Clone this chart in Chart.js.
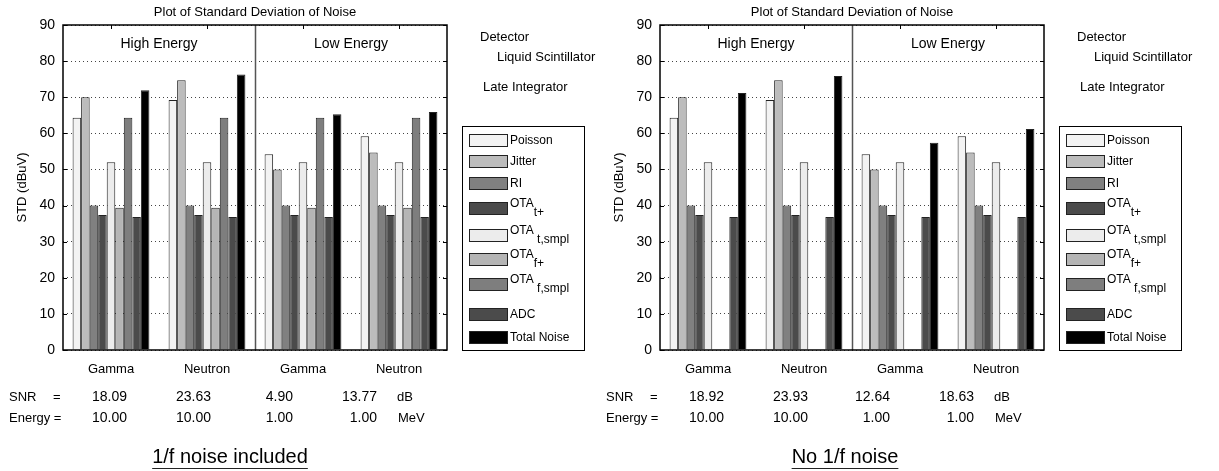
<!DOCTYPE html>
<html>
<head>
<meta charset="utf-8">
<script src="https://cdn.jsdelivr.net/npm/chart.js@4/dist/chart.umd.min.js"></script>
<style>
  html, body { margin: 0; padding: 0; background: #fff; }
  #wrap { position: relative; width: 1219px; height: 471px; overflow: hidden; }
  canvas { position: absolute; top: 0; }
</style>
</head>
<body>
<div id="wrap">
  <canvas id="left" width="610" height="471" style="left:0px"></canvas>
  <canvas id="right" width="610" height="471" style="left:597px"></canvas>
</div>
<script>
// categories and groups
const categories = ['Gamma', 'Neutron', 'Gamma', 'Neutron'];
const energyGroups = ['High Energy', 'Low Energy'];

// legend names (main text + subscript)
const legendMain = ['Poisson', 'Jitter', 'RI', 'OTA', 'OTA', 'OTA', 'OTA', 'ADC', 'Total Noise'];
const legendSub = ['', '', '', 't+', ' t,smpl', 'f+', ' f,smpl', '', ''];
const barColors = ['#f3f3f3', '#bcbcbc', '#808080', '#4b4b4b', '#ececec', '#b5b5b5', '#7e7e7e', '#4b4b4b', '#000000'];

// series values (dBuV), shared by both plots
const poisson = [64.3, 69.2, 54.2, 59.2];
const jitter = [70.0, 74.7, 50.0, 54.7];
const ri = [40.0, 40.0, 40.0, 40.0];
const otaT = [37.4, 37.4, 37.4, 37.4];
const otaTSmpl = [52.0, 52.0, 52.0, 52.0];
const adc = [36.8, 36.8, 36.8, 36.8];

// left plot: 1/f noise included
const otaFLeft = [39.4, 39.4, 39.4, 39.4];
const otaFSmplLeft = [64.3, 64.3, 64.3, 64.3];
const totalLeft = [71.9, 76.3, 65.3, 65.9];
const snrLeft = ['18.09', '23.63', '4.90', '13.77'];

// right plot: no 1/f noise
const otaFRight = [0, 0, 0, 0];
const otaFSmplRight = [0, 0, 0, 0];
const totalRight = [71.2, 75.9, 57.4, 61.2];
const snrRight = ['18.92', '23.93', '12.64', '18.63'];

const energyMeV = ['10.00', '10.00', '1.00', '1.00'];
const yTicks = [0, 10, 20, 30, 40, 50, 60, 70, 80, 90];

const FONT = "'Liberation Sans', Arial, sans-serif";

function txt(ctx, s, x, y, size, align) {
    ctx.font = size + 'px ' + FONT;
    ctx.textAlign = align || 'left';
    ctx.textBaseline = 'middle';
    ctx.fillText(s, x, y);
}

const extrasPlugin = {
    id: 'extras',
    afterDraw(chart, args, opts) {
        const ctx = chart.ctx;
        const a = chart.chartArea;
        const xs = chart.scales.x, ys = chart.scales.y;
        ctx.save();
        ctx.fillStyle = '#000';
        ctx.strokeStyle = '#000';

        // side ticks
        ctx.lineWidth = 1;
        yTicks.forEach(v => {
            const y = Math.round(ys.getPixelForValue(v)) + 0.5;
            ctx.beginPath();
            ctx.moveTo(a.left, y); ctx.lineTo(a.left + 4, y);
            ctx.moveTo(a.right, y); ctx.lineTo(a.right - 4, y);
            ctx.stroke();
        });
        // top ticks at category centres
        categories.forEach((c, i) => {
            const x = Math.round(xs.getPixelForValue(i)) + 0.5;
            ctx.beginPath();
            ctx.moveTo(x, a.top); ctx.lineTo(x, a.top + 4);
            ctx.stroke();
        });

        // divider between high and low energy
        const xd = Math.round((xs.getPixelForValue(1) + xs.getPixelForValue(2)) / 2) + 0.5;
        ctx.strokeStyle = '#555';
        ctx.lineWidth = 1.5;
        ctx.beginPath();
        ctx.moveTo(xd, a.top); ctx.lineTo(xd, a.bottom);
        ctx.stroke();

        // frame
        ctx.strokeStyle = '#000';
        ctx.lineWidth = 1.5;
        ctx.strokeRect(a.left, a.top, a.right - a.left, a.bottom - a.top);

        // title and group labels
        txt(ctx, 'Plot of Standard Deviation of Noise', (a.left + a.right) / 2, 12, 13, 'center');
        txt(ctx, energyGroups[0], (xs.getPixelForValue(0) + xs.getPixelForValue(1)) / 2, 44, 14, 'center');
        txt(ctx, energyGroups[1], (xs.getPixelForValue(2) + xs.getPixelForValue(3)) / 2, 44, 14, 'center');

        // y axis title
        ctx.save();
        ctx.translate(22, (a.top + a.bottom) / 2);
        ctx.rotate(-Math.PI / 2);
        txt(ctx, 'STD (dBuV)', 0, 0, 13, 'center');
        ctx.restore();

        // detector info
        txt(ctx, 'Detector', 480, 37, 13);
        txt(ctx, 'Liquid Scintillator', 497, 57, 13);
        txt(ctx, 'Late Integrator', 483, 87, 13);

        // legend
        ctx.lineWidth = 1;
        ctx.strokeStyle = '#000';
        ctx.strokeRect(462.5, 126.5, 122, 224);
        const rows = [140, 161, 183, 208, 235, 259, 284, 314, 337];
        chart.data.datasets.forEach((ds, i) => {
            const y = rows[i];
            ctx.fillStyle = ds.backgroundColor;
            ctx.fillRect(469, y - 6, 39, 13);
            ctx.strokeStyle = '#222';
            ctx.strokeRect(469.5, y - 5.5, 38, 12);
            ctx.fillStyle = '#000';
            if (legendSub[i]) {
                txt(ctx, legendMain[i], 510, y - 4, 12);
                const w = ctx.measureText(legendMain[i]).width;
                txt(ctx, legendSub[i], 510 + w, y + 5, 12);
            } else {
                txt(ctx, legendMain[i], 510, y + 1, 12);
            }
        });

        // SNR and energy rows
        const cols = [127, 211, 293, 377];
        txt(ctx, 'SNR', 9, 397, 13);
        txt(ctx, '=', 53, 397, 13);
        txt(ctx, 'Energy =', 9, 418, 13);
        opts.snr.forEach((s, i) => txt(ctx, s, cols[i], 397, 14, 'right'));
        energyMeV.forEach((s, i) => txt(ctx, s, cols[i], 418, 14, 'right'));
        txt(ctx, 'dB', 397, 397, 13);
        txt(ctx, 'MeV', 398, 418, 13);

        // caption, underlined
        ctx.font = '20px ' + FONT;
        const cw = ctx.measureText(opts.caption).width;
        txt(ctx, opts.caption, opts.captionX, 457, 20, 'center');
        ctx.lineWidth = 1.2;
        ctx.beginPath();
        ctx.moveTo(opts.captionX - cw / 2, 468.5);
        ctx.lineTo(opts.captionX + cw / 2, 468.5);
        ctx.stroke();

        ctx.restore();
    }
};

function makeChart(id, otaF, otaFSmpl, total, snr, caption, captionX) {
    const series = [poisson, jitter, ri, otaT, otaTSmpl, otaF, otaFSmpl, adc, total];
    const canvas = document.getElementById(id);
    new Chart(canvas, {
        type: 'bar',
        data: {
            labels: categories,
            datasets: series.map((vals, i) => ({
                label: legendMain[i] + legendSub[i],
                data: vals,
                backgroundColor: barColors[i],
                borderColor: '#222',
                borderWidth: 1,
                categoryPercentage: 0.8,
                barPercentage: 1.0
            }))
        },
        options: {
            responsive: false,
            animation: false,
            layout: { padding: { left: 0, right: canvas.width - 447, top: 25, bottom: 0 } },
            plugins: {
                legend: { display: false },
                tooltip: { enabled: false },
                extras: { snr: snr, caption: caption, captionX: captionX }
            },
            scales: {
                x: {
                    grid: { display: false, drawTicks: false },
                    border: { display: false },
                    ticks: { color: '#000', font: { family: FONT, size: 13 }, padding: 12 },
                    afterFit: s => { s.height = 121; }
                },
                y: {
                    min: 0,
                    max: 90,
                    ticks: { stepSize: 10, color: '#000', font: { family: FONT, size: 14 }, padding: 8 },
                    grid: { color: '#444', lineWidth: 1, drawTicks: false },
                    border: { display: false, dash: [1, 3] },
                    afterFit: s => { s.width = 63; }
                }
            }
        },
        plugins: [extrasPlugin]
    });
}

makeChart('left', otaFLeft, otaFSmplLeft, totalLeft, snrLeft, '1/f noise included', 230);
makeChart('right', otaFRight, otaFSmplRight, totalRight, snrRight, 'No 1/f noise', 248);
</script>
</body>
</html>
